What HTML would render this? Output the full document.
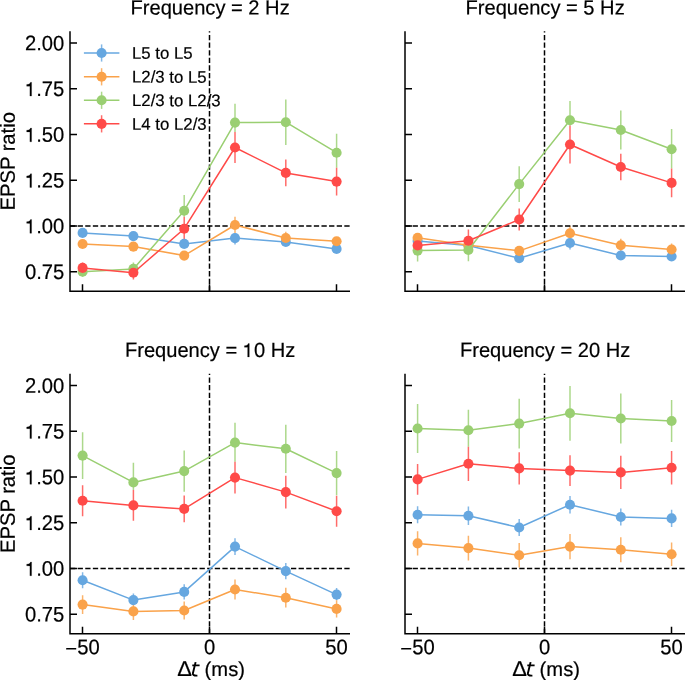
<!DOCTYPE html>
<html><head><meta charset="utf-8"><style>
html,body{margin:0;padding:0;background:#fff;}
svg{display:block;}
text{font-family:'Liberation Sans',sans-serif;fill:#000;text-rendering:geometricPrecision;stroke:#000;stroke-width:0.2px;}
svg{will-change:transform;}
</style></head><body>
<svg width="685" height="680" viewBox="0 0 685 680">
<rect width="685" height="680" fill="#fff"/>
<clipPath id="cTL"><rect x="70" y="31.2" width="280" height="260.15"/></clipPath>
<g clip-path="url(#cTL)"><path d="M82.6 229.5V236.3M133.4 232.7V239.5M184.2 240.6V247.3M235 233.2V244.4M285.8 244.2V245.4M336.6 245.5V252.3" stroke="#66a7e0" stroke-width="1.5" stroke-opacity="0.82" fill="none"/><path d="M82.6 240.6V247.4M133.4 243.2V250M184.2 252.2V259M235 216.8V233.2M285.8 231.8V244.2M336.6 237.8V244.6" stroke="#faa24a" stroke-width="1.5" stroke-opacity="0.82" fill="none"/><path d="M82.6 273.3V276.8M133.4 262.5V266.2M184.2 194.9V216.8M235 103.8V132M285.8 99.4V145M336.6 133.7V167.7" stroke="#9acf72" stroke-width="1.5" stroke-opacity="0.82" fill="none"/><path d="M82.6 262.5V273.3M133.4 266.2V279.4M184.2 216.8V240.6M235 132V163M285.8 159.5V186.3M336.6 167.7V195.5" stroke="#ff4a48" stroke-width="1.5" stroke-opacity="0.82" fill="none"/><path d="M70 226H350" stroke="#000" stroke-width="1.5" stroke-dasharray="5.3 2.32" fill="none"/><path d="M209.5 291.35V11.2" stroke="#000" stroke-width="1.5" stroke-dasharray="5.3 2.32" stroke-dashoffset="0.3" fill="none"/><polyline points="82.6,232.9 133.4,236.1 184.2,243.9 235,238.1 285.8,242 336.6,248.9" stroke="#66a7e0" stroke-width="1.5" fill="none" stroke-linejoin="round"/><circle cx="82.6" cy="232.9" r="5.05" fill="#66a7e0"/><circle cx="133.4" cy="236.1" r="5.05" fill="#66a7e0"/><circle cx="184.2" cy="243.9" r="5.05" fill="#66a7e0"/><circle cx="235" cy="238.1" r="5.05" fill="#66a7e0"/><circle cx="285.8" cy="242" r="5.05" fill="#66a7e0"/><circle cx="336.6" cy="248.9" r="5.05" fill="#66a7e0"/><polyline points="82.6,244 133.4,246.6 184.2,255.6 235,225 285.8,238 336.6,241.2" stroke="#faa24a" stroke-width="1.5" fill="none" stroke-linejoin="round"/><circle cx="82.6" cy="244" r="5.05" fill="#faa24a"/><circle cx="133.4" cy="246.6" r="5.05" fill="#faa24a"/><circle cx="184.2" cy="255.6" r="5.05" fill="#faa24a"/><circle cx="235" cy="225" r="5.05" fill="#faa24a"/><circle cx="285.8" cy="238" r="5.05" fill="#faa24a"/><circle cx="336.6" cy="241.2" r="5.05" fill="#faa24a"/><polyline points="82.6,271.8 133.4,268.9 184.2,210.7 235,122.6 285.8,122.2 336.6,152.7" stroke="#9acf72" stroke-width="1.5" fill="none" stroke-linejoin="round"/><circle cx="82.6" cy="271.8" r="5.05" fill="#9acf72"/><circle cx="133.4" cy="268.9" r="5.05" fill="#9acf72"/><circle cx="184.2" cy="210.7" r="5.05" fill="#9acf72"/><circle cx="235" cy="122.6" r="5.05" fill="#9acf72"/><circle cx="285.8" cy="122.2" r="5.05" fill="#9acf72"/><circle cx="336.6" cy="152.7" r="5.05" fill="#9acf72"/><polyline points="82.6,267.9 133.4,272.8 184.2,228.7 235,147.5 285.8,172.9 336.6,181.6" stroke="#ff4a48" stroke-width="1.5" fill="none" stroke-linejoin="round"/><circle cx="82.6" cy="267.9" r="5.05" fill="#ff4a48"/><circle cx="133.4" cy="272.8" r="5.05" fill="#ff4a48"/><circle cx="184.2" cy="228.7" r="5.05" fill="#ff4a48"/><circle cx="235" cy="147.5" r="5.05" fill="#ff4a48"/><circle cx="285.8" cy="172.9" r="5.05" fill="#ff4a48"/><circle cx="336.6" cy="181.6" r="5.05" fill="#ff4a48"/></g>
<path d="M70 31.2V291.35H350" stroke="#000" stroke-width="1.5" fill="none" stroke-linejoin="miter"/>
<path d="M70 43.1h7M70 88.82h7M70 134.55h7M70 180.28h7M70 226h7M70 271.73h7M82.5 291.35v-7M209.5 291.35v-7M336.5 291.35v-7" stroke="#000" stroke-width="1.5" fill="none"/>
<text transform="translate(64.3 50.4) scale(1.0 1.042) rotate(0.05)" text-anchor="end" font-size="20.2">2.00</text>
<g transform="translate(64.3 96.12) scale(1.0 1.042) rotate(0.05)"><text text-anchor="end" font-size="20.2"> .75</text><path d="M242 0H326V655H270C258 600 220 556 82 551V470H242Z" stroke="#000" stroke-width="10" transform="translate(-39.297 0) scale(0.02020 -0.02020)"/></g>
<g transform="translate(64.3 141.85) scale(1.0 1.042) rotate(0.05)"><text text-anchor="end" font-size="20.2"> .50</text><path d="M242 0H326V655H270C258 600 220 556 82 551V470H242Z" stroke="#000" stroke-width="10" transform="translate(-39.297 0) scale(0.02020 -0.02020)"/></g>
<g transform="translate(64.3 187.58) scale(1.0 1.042) rotate(0.05)"><text text-anchor="end" font-size="20.2"> .25</text><path d="M242 0H326V655H270C258 600 220 556 82 551V470H242Z" stroke="#000" stroke-width="10" transform="translate(-39.297 0) scale(0.02020 -0.02020)"/></g>
<g transform="translate(64.3 233.3) scale(1.0 1.042) rotate(0.05)"><text text-anchor="end" font-size="20.2"> .00</text><path d="M242 0H326V655H270C258 600 220 556 82 551V470H242Z" stroke="#000" stroke-width="10" transform="translate(-39.297 0) scale(0.02020 -0.02020)"/></g>
<text transform="translate(64.3 279.03) scale(1.0 1.042) rotate(0.05)" text-anchor="end" font-size="20.2">0.75</text>
<text transform="translate(14.8 161.28) rotate(-90) scale(1.0 1.02) rotate(0.05)" text-anchor="middle" font-size="20.2">EPSP ratio</text>
<text transform="translate(210.1 14.45) scale(1.0 1.02) rotate(0.05)" text-anchor="middle" font-size="20.1">Frequency = 2 Hz</text>
<clipPath id="cTR"><rect x="405" y="31.2" width="280" height="260.15"/></clipPath>
<g clip-path="url(#cTR)"><path d="M519.2 254.8V261.6M570 240.65V249.5M620.8 252.1V258.9M671.6 255.6V259.9" stroke="#66a7e0" stroke-width="1.5" stroke-opacity="0.82" fill="none"/><path d="M417.6 234.3V239.6M519.2 247.45V254.25M570 225.85V240.65M620.8 238.8V251.6M671.6 243.4V255.6" stroke="#faa24a" stroke-width="1.5" stroke-opacity="0.82" fill="none"/><path d="M417.6 239.6V240M417.6 250.8V261.6M468.4 252.1V261.2M519.2 166.3V201.9M570 100.9V125.6M620.8 110.5V149.5M671.6 128.9V168.6" stroke="#9acf72" stroke-width="1.5" stroke-opacity="0.82" fill="none"/><path d="M417.6 240V250.8M468.4 229.5V252.1M519.2 208.6V230.4M570 125.6V163.4M620.8 153.7V180.3M671.6 168.6V197.2" stroke="#ff4a48" stroke-width="1.5" stroke-opacity="0.82" fill="none"/><path d="M405 226H685" stroke="#000" stroke-width="1.5" stroke-dasharray="5.3 2.32" fill="none"/><path d="M544.5 291.35V11.2" stroke="#000" stroke-width="1.5" stroke-dasharray="5.3 2.32" stroke-dashoffset="0.3" fill="none"/><polyline points="417.6,240.9 468.4,245.6 519.2,258.2 570,243 620.8,255.5 671.6,256.5" stroke="#66a7e0" stroke-width="1.5" fill="none" stroke-linejoin="round"/><circle cx="417.6" cy="240.9" r="5.05" fill="#66a7e0"/><circle cx="468.4" cy="245.6" r="5.05" fill="#66a7e0"/><circle cx="519.2" cy="258.2" r="5.05" fill="#66a7e0"/><circle cx="570" cy="243" r="5.05" fill="#66a7e0"/><circle cx="620.8" cy="255.5" r="5.05" fill="#66a7e0"/><circle cx="671.6" cy="256.5" r="5.05" fill="#66a7e0"/><polyline points="417.6,237.7 468.4,245.2 519.2,250.85 570,233.25 620.8,245.2 671.6,249.5" stroke="#faa24a" stroke-width="1.5" fill="none" stroke-linejoin="round"/><circle cx="417.6" cy="237.7" r="5.05" fill="#faa24a"/><circle cx="468.4" cy="245.2" r="5.05" fill="#faa24a"/><circle cx="519.2" cy="250.85" r="5.05" fill="#faa24a"/><circle cx="570" cy="233.25" r="5.05" fill="#faa24a"/><circle cx="620.8" cy="245.2" r="5.05" fill="#faa24a"/><circle cx="671.6" cy="249.5" r="5.05" fill="#faa24a"/><polyline points="417.6,250.6 468.4,250 519.2,184.1 570,120.3 620.8,130 671.6,149.2" stroke="#9acf72" stroke-width="1.5" fill="none" stroke-linejoin="round"/><circle cx="417.6" cy="250.6" r="5.05" fill="#9acf72"/><circle cx="468.4" cy="250" r="5.05" fill="#9acf72"/><circle cx="519.2" cy="184.1" r="5.05" fill="#9acf72"/><circle cx="570" cy="120.3" r="5.05" fill="#9acf72"/><circle cx="620.8" cy="130" r="5.05" fill="#9acf72"/><circle cx="671.6" cy="149.2" r="5.05" fill="#9acf72"/><polyline points="417.6,245.4 468.4,240.8 519.2,219.5 570,144.5 620.8,167 671.6,182.9" stroke="#ff4a48" stroke-width="1.5" fill="none" stroke-linejoin="round"/><circle cx="417.6" cy="245.4" r="5.05" fill="#ff4a48"/><circle cx="468.4" cy="240.8" r="5.05" fill="#ff4a48"/><circle cx="519.2" cy="219.5" r="5.05" fill="#ff4a48"/><circle cx="570" cy="144.5" r="5.05" fill="#ff4a48"/><circle cx="620.8" cy="167" r="5.05" fill="#ff4a48"/><circle cx="671.6" cy="182.9" r="5.05" fill="#ff4a48"/></g>
<path d="M405 31.2V291.35H685" stroke="#000" stroke-width="1.5" fill="none" stroke-linejoin="miter"/>
<path d="M405 43.1h7M405 88.82h7M405 134.55h7M405 180.28h7M405 226h7M405 271.73h7M417.5 291.35v-7M544.5 291.35v-7M671.5 291.35v-7" stroke="#000" stroke-width="1.5" fill="none"/>
<text transform="translate(545.1 14.45) scale(1.0 1.02) rotate(0.05)" text-anchor="middle" font-size="20.1">Frequency = 5 Hz</text>
<clipPath id="cBL"><rect x="70" y="373.7" width="280" height="260.15"/></clipPath>
<g clip-path="url(#cBL)"><path d="M82.6 572.3V588.3M133.4 593.6V602.9M184.2 584.3V599.5M235 538.3V554.9M285.8 562.9V579.3M336.6 588.1V600.3" stroke="#66a7e0" stroke-width="1.5" stroke-opacity="0.82" fill="none"/><path d="M82.6 595.2V614M133.4 602.9V619.9M184.2 601.4V619.6M235 579.6V599.4M285.8 587.8V607.6M336.6 600.3V617.5" stroke="#faa24a" stroke-width="1.5" stroke-opacity="0.82" fill="none"/><path d="M82.6 432.2V479M133.4 462.8V490M184.2 450.4V491.8M235 422.7V461.7M285.8 424.7V472.9M336.6 450.9V495.3" stroke="#9acf72" stroke-width="1.5" stroke-opacity="0.82" fill="none"/><path d="M82.6 485.2V516.2M133.4 490V520.8M184.2 495.5V522.3M235 461.7V493.5M285.8 475.7V508.5M336.6 495.7V526.7" stroke="#ff4a48" stroke-width="1.5" stroke-opacity="0.82" fill="none"/><path d="M70 568.5H350" stroke="#000" stroke-width="1.5" stroke-dasharray="5.3 2.32" fill="none"/><path d="M209.5 633.85V353.7" stroke="#000" stroke-width="1.5" stroke-dasharray="5.3 2.32" stroke-dashoffset="0.3" fill="none"/><polyline points="82.6,580.3 133.4,600.1 184.2,591.9 235,546.6 285.8,571.1 336.6,594.6" stroke="#66a7e0" stroke-width="1.5" fill="none" stroke-linejoin="round"/><circle cx="82.6" cy="580.3" r="5.05" fill="#66a7e0"/><circle cx="133.4" cy="600.1" r="5.05" fill="#66a7e0"/><circle cx="184.2" cy="591.9" r="5.05" fill="#66a7e0"/><circle cx="235" cy="546.6" r="5.05" fill="#66a7e0"/><circle cx="285.8" cy="571.1" r="5.05" fill="#66a7e0"/><circle cx="336.6" cy="594.6" r="5.05" fill="#66a7e0"/><polyline points="82.6,604.6 133.4,611.4 184.2,610.5 235,589.5 285.8,597.7 336.6,608.9" stroke="#faa24a" stroke-width="1.5" fill="none" stroke-linejoin="round"/><circle cx="82.6" cy="604.6" r="5.05" fill="#faa24a"/><circle cx="133.4" cy="611.4" r="5.05" fill="#faa24a"/><circle cx="184.2" cy="610.5" r="5.05" fill="#faa24a"/><circle cx="235" cy="589.5" r="5.05" fill="#faa24a"/><circle cx="285.8" cy="597.7" r="5.05" fill="#faa24a"/><circle cx="336.6" cy="608.9" r="5.05" fill="#faa24a"/><polyline points="82.6,455.6 133.4,482.4 184.2,471.1 235,442.6 285.8,448.8 336.6,473.1" stroke="#9acf72" stroke-width="1.5" fill="none" stroke-linejoin="round"/><circle cx="82.6" cy="455.6" r="5.05" fill="#9acf72"/><circle cx="133.4" cy="482.4" r="5.05" fill="#9acf72"/><circle cx="184.2" cy="471.1" r="5.05" fill="#9acf72"/><circle cx="235" cy="442.6" r="5.05" fill="#9acf72"/><circle cx="285.8" cy="448.8" r="5.05" fill="#9acf72"/><circle cx="336.6" cy="473.1" r="5.05" fill="#9acf72"/><polyline points="82.6,500.7 133.4,505.4 184.2,508.9 235,477.6 285.8,492.1 336.6,511.2" stroke="#ff4a48" stroke-width="1.5" fill="none" stroke-linejoin="round"/><circle cx="82.6" cy="500.7" r="5.05" fill="#ff4a48"/><circle cx="133.4" cy="505.4" r="5.05" fill="#ff4a48"/><circle cx="184.2" cy="508.9" r="5.05" fill="#ff4a48"/><circle cx="235" cy="477.6" r="5.05" fill="#ff4a48"/><circle cx="285.8" cy="492.1" r="5.05" fill="#ff4a48"/><circle cx="336.6" cy="511.2" r="5.05" fill="#ff4a48"/></g>
<path d="M70 373.7V633.85H350" stroke="#000" stroke-width="1.5" fill="none" stroke-linejoin="miter"/>
<path d="M70 385.6h7M70 431.32h7M70 477.05h7M70 522.77h7M70 568.5h7M70 614.23h7M82.5 633.85v-7M209.5 633.85v-7M336.5 633.85v-7" stroke="#000" stroke-width="1.5" fill="none"/>
<text transform="translate(64.3 392.9) scale(1.0 1.042) rotate(0.05)" text-anchor="end" font-size="20.2">2.00</text>
<g transform="translate(64.3 438.62) scale(1.0 1.042) rotate(0.05)"><text text-anchor="end" font-size="20.2"> .75</text><path d="M242 0H326V655H270C258 600 220 556 82 551V470H242Z" stroke="#000" stroke-width="10" transform="translate(-39.297 0) scale(0.02020 -0.02020)"/></g>
<g transform="translate(64.3 484.35) scale(1.0 1.042) rotate(0.05)"><text text-anchor="end" font-size="20.2"> .50</text><path d="M242 0H326V655H270C258 600 220 556 82 551V470H242Z" stroke="#000" stroke-width="10" transform="translate(-39.297 0) scale(0.02020 -0.02020)"/></g>
<g transform="translate(64.3 530.07) scale(1.0 1.042) rotate(0.05)"><text text-anchor="end" font-size="20.2"> .25</text><path d="M242 0H326V655H270C258 600 220 556 82 551V470H242Z" stroke="#000" stroke-width="10" transform="translate(-39.297 0) scale(0.02020 -0.02020)"/></g>
<g transform="translate(64.3 575.8) scale(1.0 1.042) rotate(0.05)"><text text-anchor="end" font-size="20.2"> .00</text><path d="M242 0H326V655H270C258 600 220 556 82 551V470H242Z" stroke="#000" stroke-width="10" transform="translate(-39.297 0) scale(0.02020 -0.02020)"/></g>
<text transform="translate(64.3 621.52) scale(1.0 1.042) rotate(0.05)" text-anchor="end" font-size="20.2">0.75</text>
<text transform="translate(14.8 503.77) rotate(-90) scale(1.0 1.02) rotate(0.05)" text-anchor="middle" font-size="20.2">EPSP ratio</text>
<text transform="translate(82.5 654.35) scale(1.0 1.042) rotate(0.05)" text-anchor="middle" font-size="20.2"><tspan dy="1.25">−</tspan><tspan dy="-1.25">50</tspan></text>
<text transform="translate(209.5 654.35) scale(1.0 1.042) rotate(0.05)" text-anchor="middle" font-size="20.2">0</text>
<text transform="translate(336.5 654.35) scale(1.0 1.042) rotate(0.05)" text-anchor="middle" font-size="20.2">50</text>
<text transform="translate(177.3 675.9) scale(1.02 1.0) rotate(0.05)" font-size="21.6">Δ</text>
<path d="M195.6 662.1L192.9 673.2Q192.3 675.9 197.4 675.6M192.3 665.4H199.6" stroke="#000" stroke-width="1.9" fill="none"/>
<text transform="translate(204.6 675.9) rotate(0.05)" font-size="20.2">(ms)</text>
<g transform="translate(210.1 356.95) scale(1.0 1.02) rotate(0.05)"><text text-anchor="middle" font-size="20.1">Frequency =  0 Hz</text><path d="M242 0H326V655H270C258 600 220 556 82 551V470H242Z" stroke="#000" stroke-width="10" transform="translate(32.664 0) scale(0.02010 -0.02010)"/></g>
<clipPath id="cBR"><rect x="405" y="373.7" width="280" height="260.15"/></clipPath>
<g clip-path="url(#cBR)"><path d="M417.6 506.2V523.2M468.4 506.5V524.9M519.2 519V536M570 495.9V513.5M620.8 508.4V525.6M671.6 509.8V527" stroke="#66a7e0" stroke-width="1.5" stroke-opacity="0.82" fill="none"/><path d="M417.6 531.2V555.6M468.4 535.7V560.5M519.2 543.1V567.5M570 534V559.2M620.8 537.2V562.2M671.6 542.5V565.9" stroke="#faa24a" stroke-width="1.5" stroke-opacity="0.82" fill="none"/><path d="M417.6 404V453M468.4 409.8V446.7M519.2 398.7V448.5M570 385.9V440.7M620.8 393.6V443.4M671.6 400.1V441.9" stroke="#9acf72" stroke-width="1.5" stroke-opacity="0.82" fill="none"/><path d="M417.6 464.1V494.7M468.4 446.7V480.9M519.2 452.2V484.6M570 455.2V486M620.8 455.8V489M671.6 451V484.4" stroke="#ff4a48" stroke-width="1.5" stroke-opacity="0.82" fill="none"/><path d="M405 568.5H685" stroke="#000" stroke-width="1.5" stroke-dasharray="5.3 2.32" fill="none"/><path d="M544.5 633.85V353.7" stroke="#000" stroke-width="1.5" stroke-dasharray="5.3 2.32" stroke-dashoffset="0.3" fill="none"/><polyline points="417.6,514.7 468.4,515.7 519.2,527.5 570,504.7 620.8,517 671.6,518.4" stroke="#66a7e0" stroke-width="1.5" fill="none" stroke-linejoin="round"/><circle cx="417.6" cy="514.7" r="5.05" fill="#66a7e0"/><circle cx="468.4" cy="515.7" r="5.05" fill="#66a7e0"/><circle cx="519.2" cy="527.5" r="5.05" fill="#66a7e0"/><circle cx="570" cy="504.7" r="5.05" fill="#66a7e0"/><circle cx="620.8" cy="517" r="5.05" fill="#66a7e0"/><circle cx="671.6" cy="518.4" r="5.05" fill="#66a7e0"/><polyline points="417.6,543.4 468.4,548.1 519.2,555.3 570,546.6 620.8,549.7 671.6,554.2" stroke="#faa24a" stroke-width="1.5" fill="none" stroke-linejoin="round"/><circle cx="417.6" cy="543.4" r="5.05" fill="#faa24a"/><circle cx="468.4" cy="548.1" r="5.05" fill="#faa24a"/><circle cx="519.2" cy="555.3" r="5.05" fill="#faa24a"/><circle cx="570" cy="546.6" r="5.05" fill="#faa24a"/><circle cx="620.8" cy="549.7" r="5.05" fill="#faa24a"/><circle cx="671.6" cy="554.2" r="5.05" fill="#faa24a"/><polyline points="417.6,428.5 468.4,430.2 519.2,423.6 570,413.3 620.8,418.5 671.6,421" stroke="#9acf72" stroke-width="1.5" fill="none" stroke-linejoin="round"/><circle cx="417.6" cy="428.5" r="5.05" fill="#9acf72"/><circle cx="468.4" cy="430.2" r="5.05" fill="#9acf72"/><circle cx="519.2" cy="423.6" r="5.05" fill="#9acf72"/><circle cx="570" cy="413.3" r="5.05" fill="#9acf72"/><circle cx="620.8" cy="418.5" r="5.05" fill="#9acf72"/><circle cx="671.6" cy="421" r="5.05" fill="#9acf72"/><polyline points="417.6,479.4 468.4,463.8 519.2,468.4 570,470.6 620.8,472.4 671.6,467.7" stroke="#ff4a48" stroke-width="1.5" fill="none" stroke-linejoin="round"/><circle cx="417.6" cy="479.4" r="5.05" fill="#ff4a48"/><circle cx="468.4" cy="463.8" r="5.05" fill="#ff4a48"/><circle cx="519.2" cy="468.4" r="5.05" fill="#ff4a48"/><circle cx="570" cy="470.6" r="5.05" fill="#ff4a48"/><circle cx="620.8" cy="472.4" r="5.05" fill="#ff4a48"/><circle cx="671.6" cy="467.7" r="5.05" fill="#ff4a48"/></g>
<path d="M405 373.7V633.85H685" stroke="#000" stroke-width="1.5" fill="none" stroke-linejoin="miter"/>
<path d="M405 385.6h7M405 431.32h7M405 477.05h7M405 522.77h7M405 568.5h7M405 614.23h7M417.5 633.85v-7M544.5 633.85v-7M671.5 633.85v-7" stroke="#000" stroke-width="1.5" fill="none"/>
<text transform="translate(417.5 654.35) scale(1.0 1.042) rotate(0.05)" text-anchor="middle" font-size="20.2"><tspan dy="1.25">−</tspan><tspan dy="-1.25">50</tspan></text>
<text transform="translate(544.5 654.35) scale(1.0 1.042) rotate(0.05)" text-anchor="middle" font-size="20.2">0</text>
<text transform="translate(671.5 654.35) scale(1.0 1.042) rotate(0.05)" text-anchor="middle" font-size="20.2">50</text>
<text transform="translate(512.3 675.9) scale(1.02 1.0) rotate(0.05)" font-size="21.6">Δ</text>
<path d="M530.6 662.1L527.9 673.2Q527.3 675.9 532.4 675.6M527.3 665.4H534.6" stroke="#000" stroke-width="1.9" fill="none"/>
<text transform="translate(539.6 675.9) rotate(0.05)" font-size="20.2">(ms)</text>
<text transform="translate(545.1 356.95) scale(1.0 1.02) rotate(0.05)" text-anchor="middle" font-size="20.1">Frequency = 20 Hz</text>
<path d="M101.6 44.4V61.6" stroke="#66a7e0" stroke-width="1.5" stroke-opacity="0.82" fill="none"/>
<path d="M83.9 53H119.4" stroke="#66a7e0" stroke-width="1.5" fill="none"/>
<circle cx="101.6" cy="53" r="5.05" fill="#66a7e0"/>
<text transform="translate(132 58.8) rotate(0.05)" font-size="16.8">L5 to L5</text>
<path d="M101.6 68.2V85.4" stroke="#faa24a" stroke-width="1.5" stroke-opacity="0.82" fill="none"/>
<path d="M83.9 76.8H119.4" stroke="#faa24a" stroke-width="1.5" fill="none"/>
<circle cx="101.6" cy="76.8" r="5.05" fill="#faa24a"/>
<text transform="translate(132 82.6) rotate(0.05)" font-size="16.8">L2/3 to L5</text>
<path d="M101.6 91.7V108.9" stroke="#9acf72" stroke-width="1.5" stroke-opacity="0.82" fill="none"/>
<path d="M83.9 100.3H119.4" stroke="#9acf72" stroke-width="1.5" fill="none"/>
<circle cx="101.6" cy="100.3" r="5.05" fill="#9acf72"/>
<text transform="translate(132 106.1) rotate(0.05)" font-size="16.8">L2/3 to L2/3</text>
<path d="M101.6 115.25V132.45" stroke="#ff4a48" stroke-width="1.5" stroke-opacity="0.82" fill="none"/>
<path d="M83.9 123.85H119.4" stroke="#ff4a48" stroke-width="1.5" fill="none"/>
<circle cx="101.6" cy="123.85" r="5.05" fill="#ff4a48"/>
<text transform="translate(132 129.7) rotate(0.05)" font-size="16.8">L4 to L2/3</text>
</svg>
</body></html>
